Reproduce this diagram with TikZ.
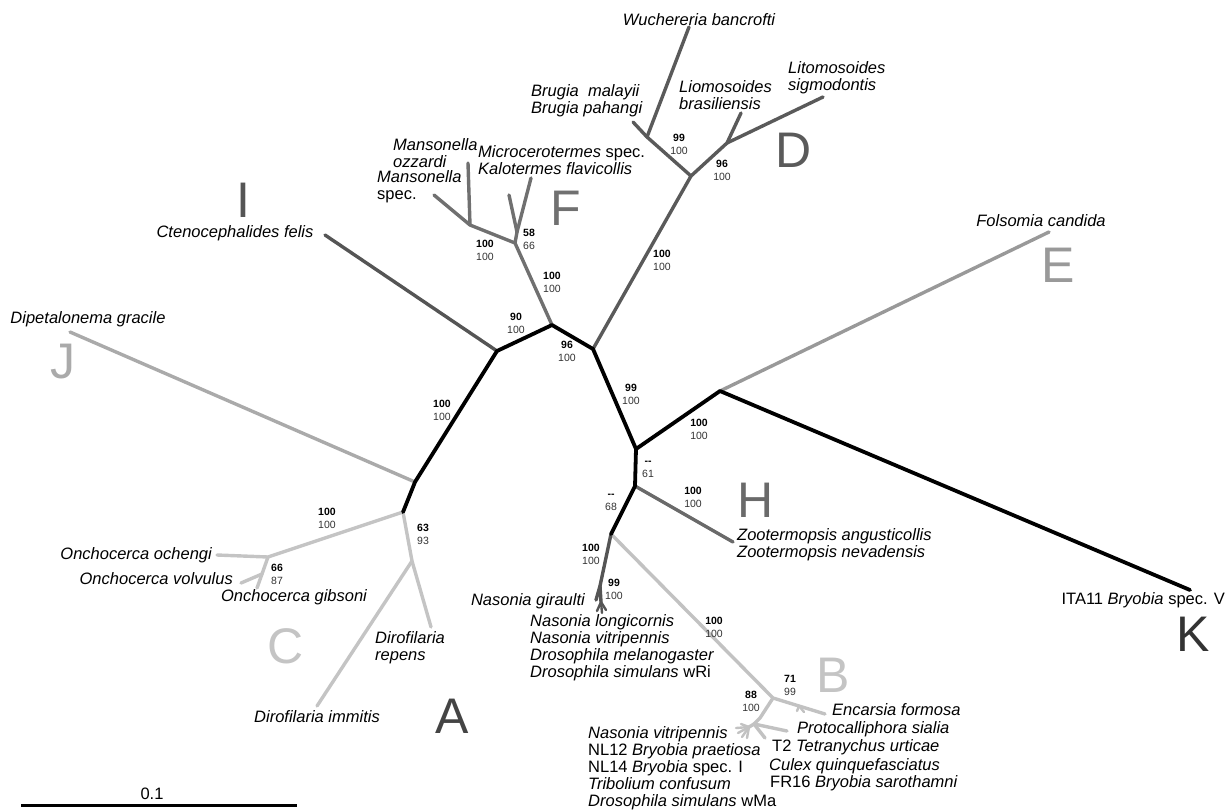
\documentclass[tikz,border=0pt]{standalone}
\usepackage{fontspec}
\setmainfont{Liberation Sans}
\definecolor{cBlk}{HTML}{000000}
\definecolor{cD}{HTML}{5A5A5A}
\definecolor{cI}{HTML}{555555}
\definecolor{cF}{HTML}{707070}
\definecolor{cH}{HTML}{6A6A6A}
\definecolor{cA}{HTML}{555555}
\definecolor{cE}{HTML}{999999}
\definecolor{cJ}{HTML}{AAAAAA}
\definecolor{cC}{HTML}{C4C4C4}
\definecolor{cB}{HTML}{C2C2C2}
\definecolor{cNum}{HTML}{333333}
\tikzset{
  br/.style={line width=3.4pt, line cap=round, line join=round},
  bbone/.style={br, draw=cBlk, line width=3.8pt},
  tx/.style={font=\fontsize{16.5}{17}\selectfont\itshape, inner sep=0pt, align=left},
  bs/.style={font=\fontsize{10.5}{13}\selectfont, inner sep=0pt, align=center, text=cNum},
  big/.style={font=\fontsize{50}{50}\selectfont, inner sep=0pt},
}
\newcommand{\bsv}[2]{\textbf{\textcolor{black}{#1}}\\#2}
\begin{document}
\begin{tikzpicture}[x=1pt,y=-1pt]
\useasboundingbox (0,0) rectangle (1228,809);
% ---------- inner nodes ----------
\coordinate (n1) at (497,351);
\coordinate (n2) at (552,325);
\coordinate (n3) at (593,349);
\coordinate (n4) at (636,449);
\coordinate (n5) at (635,486);
\coordinate (n6) at (611,534);
\coordinate (nKE) at (720,391);
\coordinate (nJ) at (415,482);
\coordinate (nC) at (403,512);
\coordinate (nOn) at (268,557);
\coordinate (nOv) at (262,574);
\coordinate (nDi) at (412,561);
\coordinate (nF) at (515,243);
\coordinate (nMa) at (470,225);
\coordinate (nMK) at (517,232);
\coordinate (nD) at (691,176);
\coordinate (nBW) at (647,137);
\coordinate (nL) at (727,143);
\coordinate (nA) at (600,586);
\coordinate (nA2) at (601,602);
\coordinate (nB) at (773,698);
\coordinate (nEn) at (799,706);
\coordinate (n88) at (760,718);
\coordinate (nX) at (754,724);
\coordinate (nFan) at (749,727);
% ---------- leaves ----------
\coordinate (lK) at (1190,590);
\coordinate (lE) at (1049,232);
\coordinate (lJ) at (70,332);
\coordinate (lOo) at (217,555);
\coordinate (lOv) at (241,583);
\coordinate (lOg) at (257,588);
\coordinate (lDr) at (431,627);
\coordinate (lDi) at (317,706);
\coordinate (lCt) at (325,235);
\coordinate (lMo) at (468,163);
\coordinate (lMs) at (434,195);
\coordinate (lMi) at (509,195);
\coordinate (lKa) at (531,178);
\coordinate (lWu) at (689,27);
\coordinate (lBr) at (633,122);
\coordinate (lLi) at (741,113);
\coordinate (lLs) at (823,97);
\coordinate (lZo) at (733,542);
\coordinate (lNg) at (596,600);
\coordinate (lA1) at (597,611);
\coordinate (lA2) at (602,613);
\coordinate (lA3) at (606,610);
\coordinate (lEn) at (825,714);
\coordinate (lEa) at (797,711);
\coordinate (lEb) at (804,712);
\coordinate (lPr) at (787,731);
\coordinate (lX2) at (765,738);
\coordinate (lF1) at (736,728);
\coordinate (lF2) at (738,733);
\coordinate (lF3) at (742,737);
\coordinate (lF4) at (747,738);
\coordinate (lF5) at (741,724);
% ---------- branches ----------
\draw[br, draw=cE] (nKE) -- (lE);
\draw[br, draw=cJ] (nJ) -- (lJ);
\draw[br, draw=cC] (nC) -- (nOn) -- (lOo);
\draw[br, draw=cC] (nOn) -- (nOv) -- (lOv);
\draw[br, draw=cC] (nOv) -- (lOg);
\draw[br, draw=cC] (nC) -- (nDi) -- (lDr);
\draw[br, draw=cC] (nDi) -- (lDi);
\draw[br, draw=cI] (n1) -- (lCt);
\draw[br, draw=cF] (n2) -- (nF) -- (nMa) -- (lMo);
\draw[br, draw=cF] (nMa) -- (lMs);
\draw[br, draw=cF] (nF) -- (nMK) -- (lMi);
\draw[br, draw=cF] (nMK) -- (lKa);
\draw[br, draw=cD] (n3) -- (nD) -- (nBW) -- (lWu);
\draw[br, draw=cD] (nBW) -- (lBr);
\draw[br, draw=cD] (nD) -- (nL) -- (lLi);
\draw[br, draw=cD] (nL) -- (lLs);
\draw[br, draw=cH] (n5) -- (lZo);
\draw[br, draw=cB] (n6) -- (nB) -- (nEn) -- (lEn);
\draw[br, draw=cB, line width=2.4pt] (nEn) -- (lEa);
\draw[br, draw=cB, line width=2.4pt] (nEn) -- (lEb);
\draw[br, draw=cB] (nB) -- (n88) -- (nX) -- (lPr);
\draw[br, draw=cB] (nX) -- (lX2);
\draw[br, draw=cB] (nX) -- (nFan);
\foreach \l in {lF1,lF2,lF3,lF4,lF5} \draw[br, draw=cB, line width=2.4pt] (nFan) -- (\l);
\draw[br, draw=cA] (n6) -- (nA) -- (lNg);
\draw[br, draw=cA] (nA) -- (nA2);
\foreach \l in {lA1,lA2,lA3} \draw[br, draw=cA, line width=2.4pt] (nA2) -- (\l);
% backbone
\draw[bbone] (lK) -- (nKE) -- (n4) -- (n3) -- (n2) -- (n1) -- (nJ) -- (nC);
\draw[bbone] (n4) -- (n5) -- (n6);
% ---------- taxon labels ----------
\node[tx] (tWu) at (699,20) {Wuchereria bancrofti};
\node[tx, anchor=west] (tBr) at (531,101) {Brugia~ malayii\\Brugia pahangi};
\node[tx, anchor=west] (tLi) at (679,95) {Liomosoides\\brasiliensis};
\node[tx, anchor=west] (tLs) at (788,78) {Litomosoides\\sigmodontis};
\node[tx, anchor=west] (tMo) at (393,153) {Mansonella\\ozzardi};
\node[tx, anchor=west] (tMs) at (377,187) {Mansonella\\\upshape spec.};
\node[tx, anchor=west] (tMi) at (478,160) {Microcerotermes {\upshape spec.}\\Kalotermes flavicollis};
\node[tx] (tCt) at (235,233) {Ctenocephalides felis};
\node[tx] (tFo) at (1041,221) {Folsomia candida};
\node[tx] (tDg) at (88,319) {Dipetalonema gracile};
\node[tx, anchor=east] (tOo) at (212,555) {Onchocerca ochengi};
\node[tx, anchor=east] (tOv) at (233,579) {Onchocerca volvulus};
\node[tx] (tOg) at (294,597) {Onchocerca gibsoni};
\node[tx, anchor=west] (tDr) at (375,648) {Dirofilaria\\repens};
\node[tx] (tDi) at (317,717) {Dirofilaria immitis};
\node[tx, anchor=west] (tZo) at (737,545) {Zootermopsis angusticollis\\Zootermopsis nevadensis};
\node[tx, anchor=east] (tNg) at (585,601) {Nasonia giraulti};
\node[tx, anchor=west] (tAb) at (530,648) {Nasonia longicornis\\Nasonia vitripennis\\Drosophila melanogaster\\Drosophila simulans {\upshape wRi}};
\node[tx, anchor=west] (tBl) at (588,768) {Nasonia vitripennis\\{\upshape NL12} Bryobia praetiosa\\{\upshape NL14} Bryobia {\upshape spec. I}\\Tribolium confusum\\Drosophila simulans {\upshape wMa}};
\node[tx, anchor=west] (tEn) at (832,710) {Encarsia formosa};
\node[tx, anchor=west] (tPr) at (797,729) {Protocalliphora sialia};
\node[tx, anchor=west] (tT2) at (772,747) {{\upshape T2} Tetranychus urticae};
\node[tx, anchor=west] (tCu) at (769,766) {Culex quinquefasciatus};
\node[tx, anchor=west] (tFR) at (770,783) {{\upshape FR16} Bryobia sarothamni};
\node[tx, anchor=east] (tIT) at (1225,600) {{\upshape ITA11} Bryobia {\upshape spec. V}};
% ---------- clade letters ----------
\node[big, text=cI] (LI) at (243,200) {I};
\node[big, text=cF] (LF) at (566,208) {F};
\node[big, text=cD] (LD) at (794,150) {D};
\node[big, text=cE] (LE) at (1058,265) {E};
\node[big, text=cJ] (LJ) at (63,362) {J};
\node[big, text=cC] (LC) at (286,646) {C};
\node[big, text=cH] (LH) at (756,500) {H};
\node[big, text=cA!80!black] (LA) at (452,716) {A};
\node[big, text=cC] (LB) at (833,675) {B};
\node[big, text=cNum] (LK) at (1193,634) {K};
% ---------- support values ----------
\node[bs] (s1) at (442,410) {\bsv{100}{100}};
\node[bs] (s2) at (516,323) {\bsv{90}{100}};
\node[bs] (s3) at (567,351) {\bsv{96}{100}};
\node[bs] (s4) at (552,282) {\bsv{100}{100}};
\node[bs] (s5) at (485,250) {\bsv{100}{100}};
\node[bs] (s6) at (529,239) {\bsv{58}{66}};
\node[bs] (s7) at (662,260) {\bsv{100}{100}};
\node[bs] (s8) at (679,144) {\bsv{99}{100}};
\node[bs] (s9) at (722,170) {\bsv{96}{100}};
\node[bs] (s10) at (631,394) {\bsv{99}{100}};
\node[bs] (s11) at (699,429) {\bsv{100}{100}};
\node[bs] (s12) at (648,469) {\bsv{-{}-}{61}};
\node[bs] (s13) at (611,502) {\bsv{-{}-}{68}};
\node[bs] (s14) at (693,497) {\bsv{100}{100}};
\node[bs] (s15) at (591,554) {\bsv{100}{100}};
\node[bs] (s16) at (614,589) {\bsv{99}{100}};
\node[bs] (s17) at (714,627) {\bsv{100}{100}};
\node[bs] (s18) at (790,685) {\bsv{71}{99}};
\node[bs] (s19) at (751,701) {\bsv{88}{100}};
\node[bs] (s20) at (327,518) {\bsv{100}{100}};
\node[bs] (s21) at (277,574) {\bsv{66}{87}};
\node[bs] (s22) at (423,534) {\bsv{63}{93}};
% ---------- scale bar ----------
\coordinate (sb1) at (21,805);
\coordinate (sb2) at (297,805);
\draw[line width=3pt] (sb1) -- (sb2);
\node[font=\fontsize{16.5}{17}\selectfont, inner sep=0pt] (sbl) at (152,794) {0.1};
\end{tikzpicture}
\end{document}
